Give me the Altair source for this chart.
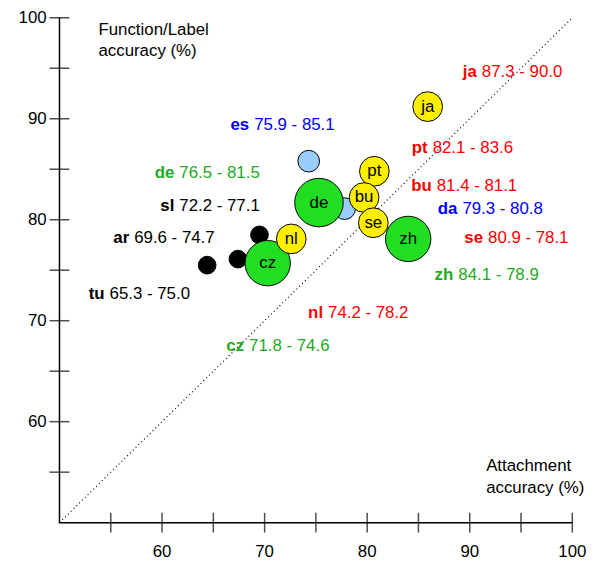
import pandas as pd
import altair as alt

# bubbles: language, attachment acc, label acc, colour, area
langs = ["tu", "ar", "sl", "es", "da", "de", "cz", "zh", "ja", "pt", "bu", "se", "nl"]
attach = [64.4, 69.5, 67.4, 74.3, 77.8, 75.3, 70.3, 84.0, 85.9, 80.7, 79.7, 80.6, 72.6]
label = [75.5, 78.5, 76.1, 85.8, 81.1, 81.7, 75.7, 78.1, 91.2, 84.8, 82.2, 79.7, 78.1]
fills = ["black", "black", "black", "#99ccff", "#99ccff", "#22dd22", "#22dd22", "#22dd22",
         "#ffee00", "#ffee00", "#ffee00", "#ffee00", "#ffee00"]
sizes = [320, 320, 320, 480, 480, 2400, 2100, 2100, 900, 900, 900, 900, 900]
inner = ["", "", "", "", "", "de", "cz", "zh", "ja", "pt", "bu", "se", "nl"]

# annotations: code, range, anchor x/y (data units), colour
ann_code = ["ja", "es", "pt", "de", "bu", "sl", "da", "ar", "se", "zh", "tu", "nl", "cz"]
ann_text = ["87.3 - 90.0", "75.9 - 85.1", "82.1 - 83.6", "76.5 - 81.5", "81.4 - 81.1",
            "72.2 - 77.1", "79.3 - 80.8", "69.6 - 74.7", "80.9 - 78.1", "84.1 - 78.9",
            "65.3 - 75.0", "74.2 - 78.2", "71.8 - 74.6"]
ann_x = [90.7, 68.5, 85.9, 61.2, 86.3, 61.2, 88.8, 56.8, 91.3, 88.4, 54.4, 75.7, 68.0]
ann_y = [94.6, 89.4, 87.1, 84.6, 83.3, 81.4, 81.1, 78.2, 78.2, 74.5, 72.6, 70.8, 67.5]
ann_col = ["red", "blue", "red", "#22aa22", "red", "black", "blue", "black", "red",
           "#22aa22", "black", "red", "#22aa22"]

x_ticks = [55, 60, 65, 70, 75, 80, 85, 90, 95, 100]
x_labels = [60, 70, 80, 90, 100]
y_ticks = [55, 60, 65, 70, 75, 80, 85, 90, 95, 100]
y_labels = [60, 70, 80, 90, 100]

FONT = "Liberation Sans"
FS = 17
xs = alt.Scale(domain=[50, 100])
ys = alt.Scale(domain=[50, 100])

bub = pd.DataFrame({"lang": langs, "x": attach, "y": label, "fill": fills,
                    "size": sizes, "inner": inner})
ann = pd.DataFrame({"code": ann_code, "txt": ann_text, "x": ann_x, "y": ann_y, "col": ann_col})

base = alt.Chart(bub)

axes_df = pd.DataFrame({"x": [50, 50, 100], "y": [100, 50, 50], "o": [0, 1, 2]})
axes = alt.Chart(axes_df).mark_line(color="black", strokeWidth=1.5).encode(
    x=alt.X("x:Q", scale=xs, axis=None), y=alt.Y("y:Q", scale=ys, axis=None), order="o:Q")

diag = alt.Chart(pd.DataFrame({"x": [50, 100], "y": [50, 100]})).mark_line(
    color="black", strokeDash=[1, 3], strokeWidth=1.2).encode(x=alt.X("x:Q", scale=xs), y=alt.Y("y:Q", scale=ys))

xt = alt.Chart(pd.DataFrame({"x": x_ticks, "y": [50] * len(x_ticks)})).mark_tick(
    orient="vertical", size=20, thickness=1.5, color="black").encode(
    x=alt.X("x:Q", scale=xs), y=alt.Y("y:Q", scale=ys))
yt = alt.Chart(pd.DataFrame({"y": y_ticks, "x": [50] * len(y_ticks)})).mark_tick(
    orient="horizontal", size=20, thickness=1.5, color="black").encode(
    x=alt.X("x:Q", scale=xs), y=alt.Y("y:Q", scale=ys))

xl = alt.Chart(pd.DataFrame({"x": x_labels, "y": [50] * len(x_labels)})).mark_text(
    font=FONT, fontSize=FS, dy=30, color="black").encode(
    x=alt.X("x:Q", scale=xs), y=alt.Y("y:Q", scale=ys), text="x:Q")
yl = alt.Chart(pd.DataFrame({"y": y_labels, "x": [50] * len(y_labels)})).mark_text(
    font=FONT, fontSize=FS, dx=-13, align="right", color="black").encode(
    x=alt.X("x:Q", scale=xs), y=alt.Y("y:Q", scale=ys), text="y:Q")

dots = base.mark_circle(opacity=1, stroke="black", strokeWidth=1).encode(
    x=alt.X("x:Q", scale=xs), y=alt.Y("y:Q", scale=ys),
    fill=alt.Fill("fill:N", scale=None), size=alt.Size("size:Q", scale=None))
inner_txt = base.mark_text(font=FONT, fontSize=FS, color="black").encode(
    x=alt.X("x:Q", scale=xs), y=alt.Y("y:Q", scale=ys), text="inner:N")

codes = alt.Chart(ann).mark_text(font=FONT, fontSize=FS, fontWeight="bold", align="right").encode(
    x=alt.X("x:Q", scale=xs), y=alt.Y("y:Q", scale=ys), text="code:N",
    color=alt.Color("col:N", scale=None))
nums = alt.Chart(ann).mark_text(font=FONT, fontSize=FS, align="left", dx=5).encode(
    x=alt.X("x:Q", scale=xs), y=alt.Y("y:Q", scale=ys), text="txt:N",
    color=alt.Color("col:N", scale=None))

titles = alt.Chart(pd.DataFrame({"x": [53.8, 91.6], "y": [99.6, 56.4],
                                 "t": [["Function/Label", "accuracy (%)"], ["Attachment", "accuracy (%)"]]})
                   ).mark_text(font=FONT, fontSize=FS, align="left", lineHeight=22, baseline="top").encode(
    x=alt.X("x:Q", scale=xs), y=alt.Y("y:Q", scale=ys), text="t")

chart = alt.layer(axes, diag, xt, yt, xl, yl, dots, inner_txt, codes, nums, titles).properties(
    width=518, height=510, autosize=alt.AutoSizeParams(type="none"),
    padding={"left": 52, "top": 7, "right": 30, "bottom": 50},
).configure_view(stroke=None)

chart.save("out.html", embed_options={"renderer": "svg", "actions": False})
